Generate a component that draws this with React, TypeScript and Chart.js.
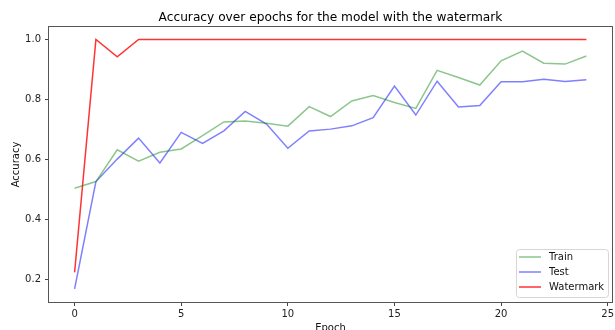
import React, { useEffect, useRef } from "react";
import { Chart, registerables } from "chart.js";

Chart.register(...registerables);

const epochs = [0,1,2,3,4,5,6,7,8,9,10,11,12,13,14,15,16,17,18,19,20,21,22,23,24];
const trainAcc = [0.504,0.526,0.632,0.594,0.624,0.635,0.679,0.725,0.728,0.721,0.711,0.776,0.743,0.795,0.813,0.790,0.770,0.897,0.873,0.848,0.929,0.961,0.921,0.918,0.945];
const testAcc = [0.168,0.526,0.601,0.671,0.588,0.690,0.653,0.695,0.760,0.718,0.637,0.695,0.701,0.712,0.739,0.845,0.748,0.861,0.775,0.780,0.859,0.859,0.867,0.860,0.866];
const watermarkAcc = [0.223,1.0,0.942,1.0,1.0,1.0,1.0,1.0,1.0,1.0,1.0,1.0,1.0,1.0,1.0,1.0,1.0,1.0,1.0,1.0,1.0,1.0,1.0,1.0,1.0];
const xTicks = [0,5,10,15,20,25];
const yTicks = [0.2,0.4,0.6,0.8,1.0];
const seriesNames = ["Train","Test","Watermark"];
const seriesColors = ["rgba(0,128,0,0.45)","rgba(0,0,255,0.5)","rgba(255,0,0,0.8)"];
const titleText = "Accuracy over epochs for the model with the watermark";
const xLabel = "Epoch";
const yLabel = "Accuracy";

const FONT = "DejaVu Sans";

const decorPlugin = {
  id: "decor",
  afterDraw(chart: any) {
    const ctx = chart.ctx;
    const a = chart.chartArea;
    ctx.save();
    // frame
    ctx.strokeStyle = "#555";
    ctx.lineWidth = 1;
    ctx.strokeRect(Math.round(a.left) - 0.5, Math.round(a.top) - 0.5, Math.round(a.right - a.left) + 1, Math.round(a.bottom - a.top) + 1);
    // title
    ctx.fillStyle = "#000";
    ctx.font = `12.2px ${FONT}`;
    ctx.textAlign = "center";
    ctx.textBaseline = "alphabetic";
    ctx.fillText(titleText, (a.left + a.right) / 2, 21);
    // axis labels
    ctx.fillStyle = "#111";
    ctx.font = `10px ${FONT}`;
    ctx.fillText(xLabel, (a.left + a.right) / 2, 330.5);
    ctx.save();
    ctx.translate(19, (a.top + a.bottom) / 2);
    ctx.rotate(-Math.PI / 2);
    ctx.fillText(yLabel, 0, 0);
    ctx.restore();
    // legend
    const lx = 516.5, ly = 249.5, lw = 92, lh = 48, r = 3;
    ctx.beginPath();
    ctx.moveTo(lx + r, ly);
    ctx.lineTo(lx + lw - r, ly);
    ctx.quadraticCurveTo(lx + lw, ly, lx + lw, ly + r);
    ctx.lineTo(lx + lw, ly + lh - r);
    ctx.quadraticCurveTo(lx + lw, ly + lh, lx + lw - r, ly + lh);
    ctx.lineTo(lx + r, ly + lh);
    ctx.quadraticCurveTo(lx, ly + lh, lx, ly + lh - r);
    ctx.lineTo(lx, ly + r);
    ctx.quadraticCurveTo(lx, ly, lx + r, ly);
    ctx.closePath();
    ctx.fillStyle = "rgba(255,255,255,0.8)";
    ctx.fill();
    ctx.strokeStyle = "#d6d6d6";
    ctx.stroke();
    const rows = [257, 272, 287];
    ctx.textAlign = "left";
    ctx.textBaseline = "middle";
    ctx.font = `10px ${FONT}`;
    seriesNames.forEach((name, i) => {
      ctx.strokeStyle = seriesColors[i];
      ctx.lineWidth = 1.5;
      ctx.beginPath();
      ctx.moveTo(519, rows[i]);
      ctx.lineTo(541, rows[i]);
      ctx.stroke();
      ctx.fillStyle = "#111";
      ctx.fillText(name, 549, rows[i] + 0.5);
    });
    ctx.restore();
  },
};

export default function App() {
  const ref = useRef<HTMLCanvasElement | null>(null);
  useEffect(() => {
    if (!ref.current) return;
    const mk = (data: number[]) => data.map((v, i) => ({ x: epochs[i], y: v }));
    const chart = new Chart(ref.current, {
      type: "line",
      data: {
        datasets: [trainAcc, testAcc, watermarkAcc].map((d, i) => ({
          label: seriesNames[i],
          data: mk(d),
          borderColor: seriesColors[i],
          backgroundColor: seriesColors[i],
          borderWidth: 1.5,
          pointRadius: 0,
          tension: 0,
          fill: false,
        })),
      },
      options: {
        animation: false,
        responsive: false,
        devicePixelRatio: 1,
        layout: { padding: { left: 0, top: 27, right: 3, bottom: 0 } },
        plugins: { legend: { display: false }, title: { display: false }, tooltip: { enabled: false } },
        scales: {
          x: {
            type: "linear",
            min: -1.2,
            max: 25.2,
            afterBuildTicks: (s: any) => { s.ticks = xTicks.map((v) => ({ value: v })); },
            afterFit: (s: any) => { s.height = 28; s.paddingLeft = 0; s.paddingRight = 0; },
            grid: { display: true, drawOnChartArea: false, drawTicks: true, tickLength: 4, color: "#444", tickWidth: 1 },
            border: { display: false },
            ticks: { font: { family: FONT, size: 10 }, color: "#222", padding: 2, maxRotation: 0, autoSkip: false, callback: (v: any) => String(v) },
          },
          y: {
            type: "linear",
            min: 0.1243,
            max: 1.0417,
            afterBuildTicks: (s: any) => { s.ticks = yTicks.map((v) => ({ value: v })); },
            afterFit: (s: any) => { s.width = 49; s.paddingTop = 0; s.paddingBottom = 0; },
            grid: { display: true, drawOnChartArea: false, drawTicks: true, tickLength: 4, color: "#444", tickWidth: 1 },
            border: { display: false },
            ticks: { font: { family: FONT, size: 10 }, color: "#222", padding: 4, autoSkip: false, callback: (v: any) => Number(v).toFixed(1) },
          },
        },
      },
      plugins: [decorPlugin],
    });
    return () => chart.destroy();
  }, []);
  return (
    <div style={{ position: "absolute", left: 0, top: 0, width: 615, height: 330, background: "#fff" }}>
      <canvas ref={ref} width={615} height={330} style={{ width: 615, height: 330, display: "block" }} />
    </div>
  );
}
